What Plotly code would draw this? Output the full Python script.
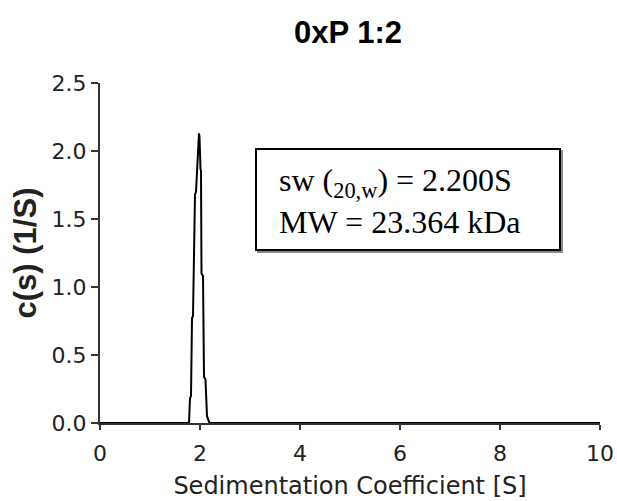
import plotly.graph_objects as go

# Data
s_values = [0.0, 1.78, 1.80, 1.82, 1.84, 1.86, 1.90, 1.92, 1.98, 1.99, 2.01, 2.02, 2.03, 2.06, 2.08, 2.11, 2.14, 2.19, 10.0]
c_values = [0.0, 0.0, 0.18, 0.20, 0.77, 0.79, 1.68, 1.70, 2.13, 2.10, 1.87, 1.85, 1.10, 1.08, 0.34, 0.32, 0.05, 0.0, 0.0]

x_ticks = [0, 2, 4, 6, 8, 10]
y_ticks = [0.0, 0.5, 1.0, 1.5, 2.0, 2.5]
y_tick_labels = ["0.0", "0.5", "1.0", "1.5", "2.0", "2.5"]

title_text = "0xP 1:2"
x_title = "Sedimentation Coefficient [S]"
y_title = "c(s) (1/S)"
box_text = "sw (<sub>20,w</sub>) = 2.200S<br>MW = 23.364 kDa"

fig = go.Figure()
fig.add_trace(go.Scatter(
    x=s_values, y=c_values, mode="lines",
    line=dict(color="black", width=2),
    showlegend=False, hoverinfo="skip",
))

# box with slight shadow
fig.add_shape(type="rect", xref="x", yref="y", x0=3.16, x1=9.24, y0=1.257, y1=2.0,
              line=dict(color="#8a8a8a", width=2), fillcolor="#8a8a8a", layer="above")
fig.add_shape(type="rect", xref="x", yref="y", x0=3.12, x1=9.2, y0=1.272, y1=2.015,
              line=dict(color="black", width=2), fillcolor="white", layer="above")
fig.add_annotation(
    x=3.54, y=1.63, xref="x", yref="y", xanchor="left", yanchor="middle",
    text=box_text, showarrow=False, align="left",
    font=dict(family="Liberation Serif, Times New Roman, serif", size=32, color="black"),
)

tick_font = dict(family="DejaVu Sans, Verdana, sans-serif", size=22, color="#222")

fig.update_layout(
    width=617, height=501,
    margin=dict(l=100, r=17, t=83, b=78),
    paper_bgcolor="white", plot_bgcolor="white",
    title=dict(text="<b>" + title_text + "</b>", x=0.564, xanchor="center", y=0.936, yanchor="middle",
               font=dict(family="Liberation Sans, Arial, sans-serif", size=31, color="black")),
    xaxis=dict(
        range=[0, 10], tickvals=x_ticks, ticktext=[str(v) for v in x_ticks],
        showgrid=False, zeroline=False, showline=True, linecolor="#333", linewidth=2,
        ticks="outside", ticklen=5, tickwidth=2, tickcolor="#333",
        tickfont=tick_font, automargin=False, ticklabelstandoff=5,
        title=dict(text=x_title, font=dict(family="DejaVu Sans, Verdana, sans-serif", size=24, color="#222"),
                   standoff=12),
    ),
    yaxis=dict(
        range=[0, 2.5], tickvals=y_ticks, ticktext=y_tick_labels,
        showgrid=False, zeroline=False, showline=True, linecolor="#333", linewidth=2,
        ticks="outside", ticklen=7, tickwidth=2, tickcolor="#333",
        tickfont=tick_font, automargin=False,
        title=dict(text="<b>" + y_title + "</b>",
                   font=dict(family="Liberation Sans, Arial, sans-serif", size=31, color="#222"),
                   standoff=6),
    ),
)

fig.write_html(
    "out.html",
    config={"displayModeBar": False},
    post_script="document.body.style.margin='0px';document.body.style.overflow='hidden';",
)
